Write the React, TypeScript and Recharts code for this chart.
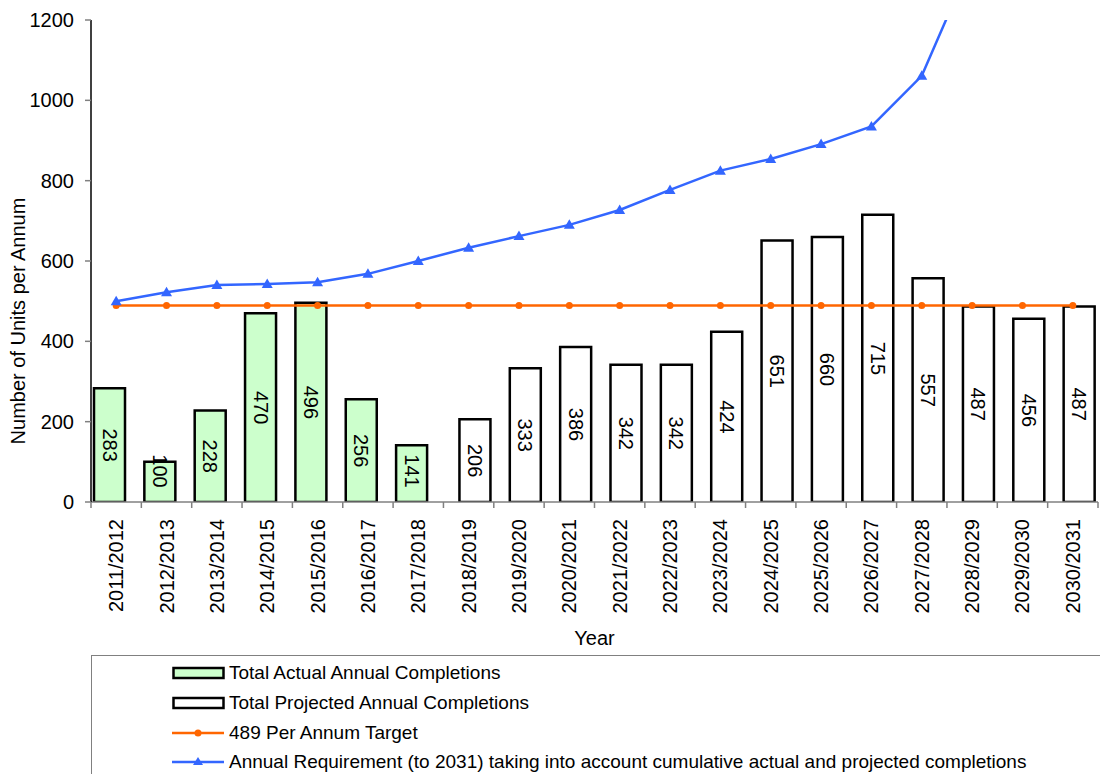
import React from 'react';
import { ComposedChart, Bar, Line, XAxis, YAxis, LabelList, Legend } from 'recharts';

const categories = [
  '2011/2012', '2012/2013', '2013/2014', '2014/2015', '2015/2016', '2016/2017', '2017/2018',
  '2018/2019', '2019/2020', '2020/2021', '2021/2022', '2022/2023', '2023/2024', '2024/2025',
  '2025/2026', '2026/2027', '2027/2028', '2028/2029', '2029/2030', '2030/2031',
];
const actualCompletions = [283, 100, 228, 470, 496, 256, 141, null, null, null, null, null, null, null, null, null, null, null, null, null];
const projectedCompletions = [null, null, null, null, null, null, null, 206, 333, 386, 342, 342, 424, 651, 660, 715, 557, 487, 456, 487];
const perAnnumTarget = [489, 489, 489, 489, 489, 489, 489, 489, 489, 489, 489, 489, 489, 489, 489, 489, 489, 489, 489, 489];
const annualRequirement = [500, 522, 540, 543, 547, 568, 600, 633, 662, 690, 727, 777, 825, 854, 891, 935, 1061, 1350, 1850, 2700];
const yTicks = [0, 200, 400, 600, 800, 1000, 1200];

const SERIES_NAMES = {
  actual: 'Total Actual Annual Completions',
  projected: 'Total Projected Annual Completions',
  target: '489 Per Annum Target',
  requirement: 'Annual Requirement (to 2031) taking into account cumulative actual and projected completions',
};

const data = categories.map((year, i) => ({
  year,
  actual: actualCompletions[i],
  projected: projectedCompletions[i],
  target: perAnnumTarget[i],
  requirement: annualRequirement[i],
}));

const FONT = '"Liberation Sans", Arial, Helvetica, sans-serif';
const GREEN = '#CCFFCC';
const ORANGE = '#FF6600';
const BLUE = '#3366FF';
const AXIS_GRAY = '#808080';

const XTick = (props: any) => {
  const { x, y, payload, index, width, visibleTicksCount } = props;
  const band = width / visibleTicksCount;
  const half = band / 2;
  const axisY = y - 6;
  return (
    <g>
      <line x1={x - half} x2={x - half} y1={axisY} y2={axisY + 6} stroke={AXIS_GRAY} strokeWidth={1.5} />
      {index === visibleTicksCount - 1 && (
        <line x1={x + half} x2={x + half} y1={axisY} y2={axisY + 6} stroke={AXIS_GRAY} strokeWidth={1.5} />
      )}
      <text
        transform={`translate(${x}, ${axisY + 17}) rotate(-90)`}
        textAnchor="end"
        dominantBaseline="central"
        fontSize={20}
        fontFamily={FONT}
        fill="#000"
      >
        {payload.value}
      </text>
    </g>
  );
};

const BarValueLabel = (props: any) => {
  const { x, y, width, height, value } = props;
  if (value == null) return null;
  const cx = x + width / 2;
  const zeroY = y + height;
  const cy = Math.min(y + height / 2, zeroY - 31);
  return (
    <text
      x={cx}
      y={cy}
      transform={`rotate(90, ${cx}, ${cy})`}
      textAnchor="middle"
      dominantBaseline="central"
      fontSize={20}
      fontFamily={FONT}
      fill="#000"
    >
      {value}
    </text>
  );
};

const TriangleDot = (props: any) => {
  const { cx, cy } = props;
  if (cx == null || cy == null) return null;
  return <polygon points={`${cx},${cy - 5.5} ${cx + 5.5},${cy + 4} ${cx - 5.5},${cy + 4}`} fill={BLUE} />;
};

const YTitle = (props: any) => {
  const vb = props.viewBox || { x: 0, y: 20, width: 91, height: 482 };
  const cx = vb.x + 18;
  const cy = vb.y + vb.height / 2 + 60;
  return (
    <text
      x={cx}
      y={cy}
      transform={`rotate(-90, ${cx}, ${cy})`}
      textAnchor="middle"
      dominantBaseline="central"
      fontSize={20}
      fontFamily={FONT}
      fill="#000"
    >
      Number of Units per Annum
    </text>
  );
};

const XTitle = (props: any) => {
  const vb = props.viewBox || { x: 91, y: 502, width: 1007, height: 272 };
  return (
    <text x={vb.x + vb.width / 2} y={vb.y + 143} textAnchor="middle" fontSize={20} fontFamily={FONT} fill="#000">
      Year
    </text>
  );
};

const LegendSymbol = ({ kind }: { kind: string }) => {
  if (kind === 'actual' || kind === 'projected') {
    return (
      <svg width={54} height={14}>
        <rect x={1.5} y={2} width={50} height={10} fill={kind === 'actual' ? GREEN : '#fff'} stroke="#000" strokeWidth={2.5} />
      </svg>
    );
  }
  const color = kind === 'target' ? ORANGE : BLUE;
  return (
    <svg width={54} height={14}>
      <line x1={0} x2={52} y1={7} y2={7} stroke={color} strokeWidth={2.5} />
      {kind === 'target' ? (
        <circle cx={26} cy={7} r={3.5} fill={color} />
      ) : (
        <polygon points="26,2 31,10 21,10" fill={color} />
      )}
    </svg>
  );
};

const LegendBox = (props: any) => {
  const payload = props.payload || [];
  const order = ['actual', 'projected', 'target', 'requirement'];
  const items = order.map((k) => {
    const p = payload.find((e: any) => e.dataKey === k);
    return { key: k, label: p ? p.value : (SERIES_NAMES as any)[k] };
  });
  return (
    <div
      style={{
        position: 'relative',
        width: 1100,
        height: 200,
        borderTop: `1px solid ${AXIS_GRAY}`,
        borderLeft: `1px solid ${AXIS_GRAY}`,
        boxSizing: 'border-box',
        fontFamily: FONT,
        fontSize: 19,
        color: '#000',
        textAlign: 'left',
      }}
    >
      {items.map((it, i) => (
        <div
          key={it.key}
          style={{
            position: 'absolute',
            left: 80,
            top: 2 + i * 29.8,
            height: 30,
            display: 'flex',
            alignItems: 'center',
            whiteSpace: 'nowrap',
          }}
        >
          <LegendSymbol kind={it.key} />
          <span style={{ marginLeft: 3 }}>{it.label}</span>
        </div>
      ))}
    </div>
  );
};

export default function App() {
  return (
    <div style={{ position: 'absolute', left: 0, top: 0, width: 1100, height: 774, overflow: 'hidden', background: '#fff' }}>
      <ComposedChart
        width={1100}
        height={774}
        data={data}
        margin={{ top: 20, right: 2, bottom: 0, left: 0 }}
        barSize={31}
        barGap={-18}
      >
        <XAxis
          dataKey="year"
          height={272}
          interval={0}
          tickSize={6}
          tickMargin={0}
          tickLine={false}
          axisLine={{ stroke: AXIS_GRAY, strokeWidth: 1.5 }}
          tick={<XTick />}
          label={<XTitle />}
        />
        <YAxis
          width={91}
          domain={[0, 1200]}
          ticks={yTicks}
          allowDataOverflow
          interval={0}
          tickSize={6}
          tickMargin={11}
          tickLine={{ stroke: AXIS_GRAY, strokeWidth: 1.5 }}
          axisLine={{ stroke: '#000', strokeWidth: 1.5 }}
          tick={{ fontSize: 20, fontFamily: FONT, fill: '#000' }}
          label={<YTitle />}
        />
        <Legend
          layout="horizontal"
          verticalAlign="middle"
          align="center"
          content={<LegendBox />}
          wrapperStyle={{ left: 91, top: 655, width: 1100, height: 200 }}
        />
        <Bar dataKey="actual" name={SERIES_NAMES.actual} fill={GREEN} stroke="#000" strokeWidth={2.5} isAnimationActive={false}>
          <LabelList dataKey="actual" content={<BarValueLabel />} />
        </Bar>
        <Bar dataKey="projected" name={SERIES_NAMES.projected} fill="#fff" stroke="#000" strokeWidth={2.5} isAnimationActive={false}>
          <LabelList dataKey="projected" content={<BarValueLabel />} />
        </Bar>
        <Line
          dataKey="target"
          name={SERIES_NAMES.target}
          stroke={ORANGE}
          strokeWidth={2.5}
          dot={{ r: 3.5, fill: ORANGE, stroke: ORANGE, strokeWidth: 0 }}
          activeDot={false}
          isAnimationActive={false}
        />
        <Line
          dataKey="requirement"
          name={SERIES_NAMES.requirement}
          stroke={BLUE}
          strokeWidth={2.5}
          dot={<TriangleDot />}
          activeDot={false}
          isAnimationActive={false}
        />
      </ComposedChart>
    </div>
  );
}
